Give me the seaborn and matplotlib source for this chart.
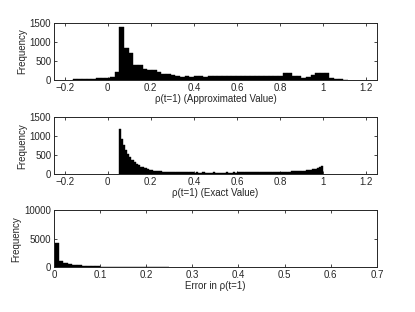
import numpy as np
import pandas as pd
import matplotlib
matplotlib.use("Agg")
import matplotlib.pyplot as plt
import seaborn as sns

# approximated rho(t=1): bin width ~0.0217, first left edge -0.1635
approx_start = -0.1635
approx_width = 0.0217
approx_counts = [10, 20, 30, 35, 35, 40, 45, 45, 70, 220,
                 1390, 840, 720, 400, 390, 300, 260, 250, 210, 150,
                 150, 130, 110, 80, 110, 70, 90, 90, 80, 110,
                 110, 90, 100, 100, 110, 100, 100, 110, 95, 100,
                 100, 100, 95, 105, 110, 175, 180, 110, 90, 60,
                 80, 140, 185, 190, 180, 60, 30, 10, 5]

# exact rho(t=1): bins of 0.01 from 0.05 to 1.0
exact_start = 0.05
exact_width = 0.01
exact_counts = [1200, 930, 760, 630, 530, 450, 380, 320, 270, 230,
                200, 175, 150, 130, 115, 100, 92, 85, 78, 72,
                68, 64, 60, 58, 55, 52, 50, 50, 48, 47,
                46, 45, 44, 45, 43, 42, 44, 42, 41, 43,
                42, 40, 42, 41, 43, 40, 42, 41, 40, 42,
                43, 41, 42, 44, 42, 43, 45, 44, 43, 44,
                45, 44, 46, 45, 47, 46, 48, 47, 50, 49,
                52, 51, 54, 55, 57, 58, 60, 62, 65, 68,
                70, 72, 75, 78, 82, 88, 92, 98, 105, 115,
                125, 140, 165, 195, 220]

# error in rho(t=1): bins of 0.01 from 0
err_start = 0.0
err_width = 0.01
err_counts = [4300, 1050, 750, 480, 380, 300, 230, 180, 140, 110,
              90, 70, 55, 40, 30, 22, 16, 12, 8, 6,
              4, 3, 2, 2, 1]

rho_ticks = [-0.2, 0, 0.2, 0.4, 0.6, 0.8, 1, 1.2]
err_ticks = [0, 0.1, 0.2, 0.3, 0.4, 0.5, 0.6, 0.7]

panels = [
    (approx_start, approx_width, approx_counts, (-0.25, 1.25), [0, 500, 1000, 1500],
     rho_ticks, "\u03c1(t=1) (Approximated Value)", 0.744),
    (exact_start, exact_width, exact_counts, (-0.25, 1.25), [0, 500, 1000, 1500],
     rho_ticks, "\u03c1(t=1) (Exact Value)", 0.442),
    (err_start, err_width, err_counts, (0, 0.7), [0, 5000, 10000],
     err_ticks, "Error in \u03c1(t=1)", 0.144),
]

sns.set_style("ticks")
plt.rcParams["font.family"] = ["Liberation Sans", "DejaVu Sans"]

fig = plt.figure(figsize=(4.15, 3.12), dpi=100)

for start, width, counts, xlim, yticks, xticks, xlabel, bottom in panels:
    ax = fig.add_axes([0.130, bottom, 0.778, 0.182])
    nbins = len(counts)
    df = pd.DataFrame({"x": start + width * (np.arange(nbins) + 0.5),
                       "n": counts})
    sns.histplot(data=df, x="x", weights="n", bins=nbins,
                 binrange=(start, start + width * nbins), ax=ax,
                 color="black", edgecolor="black", linewidth=0.3, alpha=1)
    ax.set_xlim(*xlim)
    ax.set_ylim(0, yticks[-1])
    ax.set_yticks(yticks)
    ax.set_xticks(xticks)
    ax.set_xticklabels([("%g" % t).replace("-", "\u2212") for t in xticks])
    ax.set_xlabel(xlabel, fontsize=7, labelpad=1)
    ax.set_ylabel("Frequency", fontsize=7, labelpad=2)
    ax.tick_params(direction="in", top=True, right=True, length=2.5,
                   width=0.6, labelsize=7, pad=2)
    for s in ax.spines.values():
        s.set_linewidth(0.7)

fig.savefig("out.png", dpi=100)
